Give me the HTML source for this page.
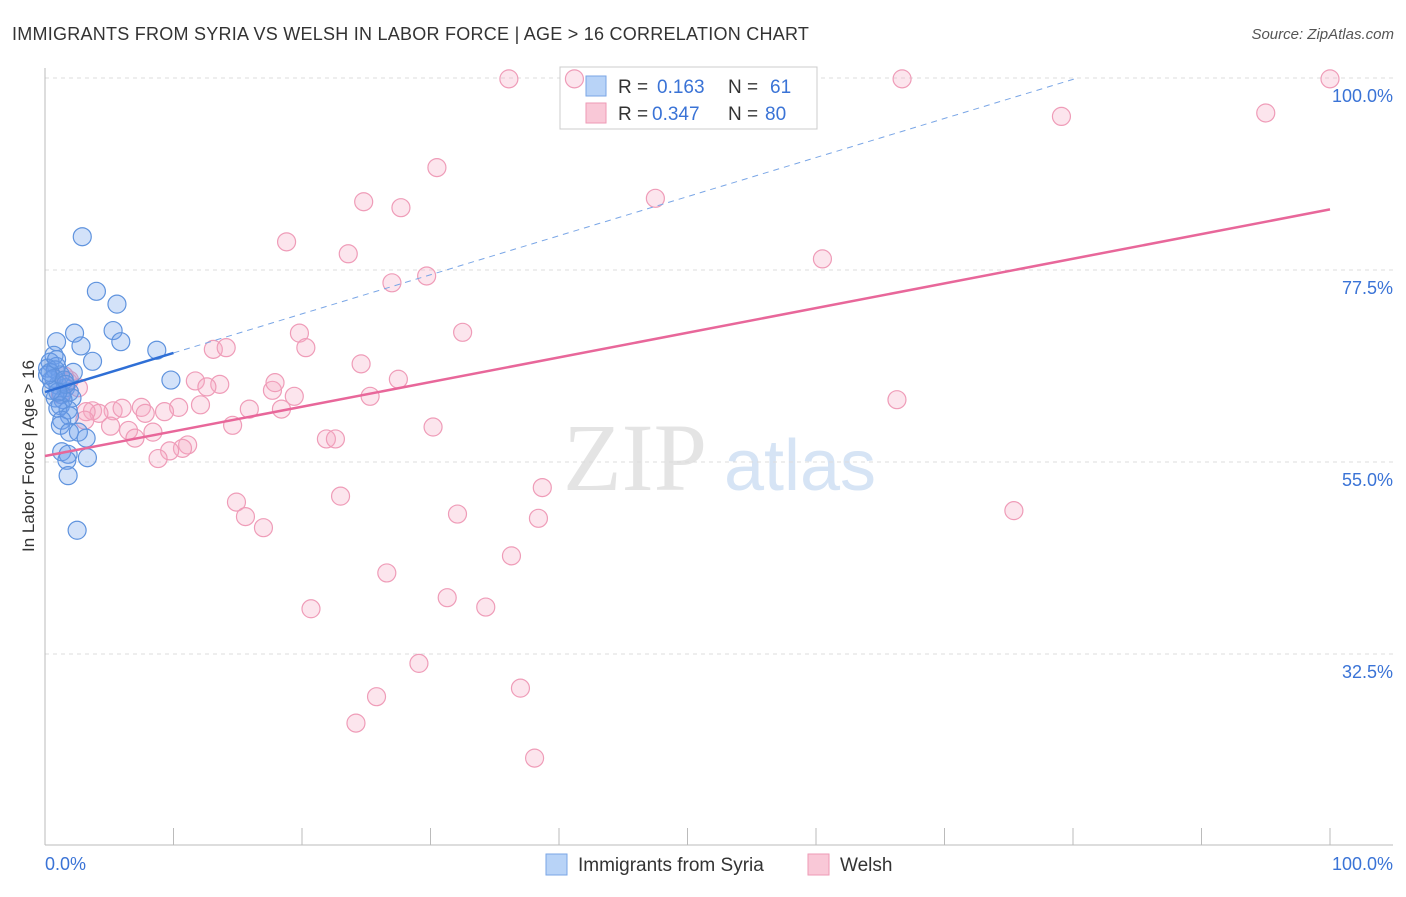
<!DOCTYPE html>
<html><head><meta charset="utf-8"><style>
body{margin:0;background:#fff;font-family:"Liberation Sans",sans-serif;}
</style></head><body>
<svg width="1406" height="892" xmlns="http://www.w3.org/2000/svg" id="svg" font-family="Liberation Sans, sans-serif">
<text x="12" y="40" font-size="18" fill="#333" letter-spacing="0.25">IMMIGRANTS FROM SYRIA VS WELSH IN LABOR FORCE | AGE &gt; 16 CORRELATION CHART</text>
<text x="1394" y="39" font-size="15" fill="#555" font-style="italic" text-anchor="end">Source: ZipAtlas.com</text>
<text x="0" y="0" transform="translate(34,456) rotate(-90)" font-size="17" fill="#333" text-anchor="middle">In Labor Force | Age &gt; 16</text>
<text x="635" y="490" font-size="96" fill="#e4e4e4" font-family="Liberation Serif, serif" text-anchor="middle">ZIP</text>
<text x="800" y="490" font-size="72" fill="#d6e4f5" text-anchor="middle">atlas</text>
<g id="grid"></g><g id="axes"></g>
<g>
<rect x="560" y="67" width="257" height="62" fill="#fff" stroke="#ccc"/>
<rect x="586" y="76" width="20" height="20" fill="#b8d3f7" stroke="#7aa6e6"/>
<rect x="586" y="103" width="20" height="20" fill="#f9c8d7" stroke="#ee9ab6"/>
<text y="93" font-size="19" fill="#333"><tspan x="618">R = </tspan><tspan x="657" fill="#3a73d6">0.163</tspan><tspan x="728">N = </tspan><tspan x="770" fill="#3a73d6">61</tspan></text>
<text y="120" font-size="19" fill="#333"><tspan x="618">R = </tspan><tspan x="652" fill="#3a73d6">0.347</tspan><tspan x="728">N = </tspan><tspan x="765" fill="#3a73d6">80</tspan></text>
</g>
<g id="pts"></g><g id="lines"></g>
<g>
<rect x="546" y="854" width="21" height="21" fill="#b8d3f7" stroke="#7aa6e6"/>
<text x="578" y="871" font-size="19" fill="#333">Immigrants from Syria</text>
<rect x="808" y="854" width="21" height="21" fill="#f9c8d7" stroke="#ee9ab6"/>
<text x="840" y="871" font-size="19" fill="#333">Welsh</text>
</g>
</svg>
<script>
const yTicks=[100,77.5,55,32.5];
const yTickLabels=["100.0%","77.5%","55.0%","32.5%"];
const xTicks=[0,10,20,30,40,50,60,70,80,90,100];
const syriaX=[2.9,4.0,5.6,2.3,5.3,0.9,5.9,2.8,8.7,0.7,3.7,0.4,0.9,0.2,2.2,0.8,1.2,9.8,0.5,1.0,1.6,1.9,1.3,0.8,2.1,1.4,1.2,1.8,1.0,1.9,1.3,1.2,1.9,2.6,3.2,1.3,1.8,3.3,1.7,1.8,2.5,0.4,0.7,1.5,1.6,1.0,0.5,0.2,0.9];
const syriaY=[81.4,75.0,73.5,70.1,70.4,69.1,69.1,68.6,68.1,67.5,66.8,66.7,66.2,66.0,65.5,65.8,65.2,64.6,64.6,64.0,63.7,63.2,62.9,62.5,62.5,62.3,61.6,61.1,61.3,60.4,59.9,59.3,58.5,58.5,57.8,56.2,55.9,55.5,55.2,53.4,47.0,65.5,64.8,64.6,64.1,63.2,63.4,65.2,67.0];
const welshX=[36.1,41.2,66.7,100,79.1,95.0,30.5,47.5,24.8,27.7,18.8,23.6,60.5,29.7,27.0,19.8,32.5,13.1,14.1,20.3,24.6,27.5,11.7,13.6,17.7,17.9,25.3,19.4,66.3,12.6,2.6,1.8,12.1,10.4,15.9,18.4,3.7,5.3,6.0,4.2,7.5,7.8,9.3,3.2,14.6,30.2,6.5,8.4,7.0,21.9,22.6,11.1,10.7,9.7,8.8,38.7,14.9,23.0,15.6,32.1,38.4,75.4,17.0,36.3,26.6,31.3,34.3,20.7,29.1,25.8,37.0,24.2,38.1,1.2,1.9,3.1,5.1,1.5];
const welshY=[99.9,99.9,99.9,99.9,95.5,95.9,89.5,85.9,85.5,84.8,80.8,79.4,78.8,76.8,76.0,70.1,70.2,68.2,68.4,68.4,66.5,64.7,64.5,64.1,63.4,64.3,62.7,62.7,62.3,63.8,63.7,64.4,61.7,61.4,61.2,61.2,61.0,61.0,61.3,60.7,61.4,60.7,60.9,60.9,59.3,59.1,58.7,58.5,57.8,57.7,57.7,57.0,56.6,56.3,55.4,52.0,50.3,51.0,48.6,48.9,48.4,49.3,47.3,44.0,42.0,39.1,38.0,37.8,31.4,27.5,28.5,24.4,20.3,62.9,64.6,59.9,59.2,65.1];
const syriaTrend=[63.2,0.458];
const welshTrend=[55.7,0.289];
const NS="http://www.w3.org/2000/svg";
const X=v=>45+v*12.85, Y=v=>78+(100-v)*192/22.5;
function mk(tag,attrs,parent){const e=document.createElementNS(NS,tag);for(const k in attrs)e.setAttribute(k,attrs[k]);document.getElementById(parent).appendChild(e);return e;}
yTicks.forEach((t,i)=>{
  const g=mk('line',{x1:45,x2:1393,y1:Y(t),y2:Y(t),stroke:'#ddd','stroke-dasharray':'4,4'},'grid');
  
  
  const l=mk('text',{x:1393,y:Y(t)+24,'font-size':18,fill:'#3a73d6','text-anchor':'end'},'grid');
  l.textContent=yTickLabels[i];
  
  
});
let a=mk('line',{x1:45,x2:45,y1:68,y2:845,stroke:'#bbb'},'axes');


a=mk('line',{x1:45,x2:1393,y1:845,y2:845,stroke:'#bbb'},'axes');


xTicks.forEach(t=>{const e=mk('line',{x1:X(t),x2:X(t),y1:828,y2:845,stroke:'#bbb'},'axes');
  
  });
let t=mk('text',{x:45,y:870,'font-size':18,fill:'#3a73d6'},'axes');t.textContent='0.0%';


t=mk('text',{x:1393,y:870,'font-size':18,fill:'#3a73d6','text-anchor':'end'},'axes');t.textContent='100.0%';


welshX.forEach((x,i)=>{const c=mk('circle',{cx:X(x),cy:Y(welshY[i]),r:9,fill:'rgba(246,168,195,0.3)',stroke:'#ef9cb8','stroke-width':1.2},'pts');
  
  });
syriaX.forEach((x,i)=>{const c=mk('circle',{cx:X(x),cy:Y(syriaY[i]),r:9,fill:'rgba(110,160,235,0.3)',stroke:'#5f93de','stroke-width':1.2},'pts');
  
  });
const sy=x=>syriaTrend[0]+syriaTrend[1]*x;
const xEnd=(100-syriaTrend[0])/syriaTrend[1];
let ln=mk('line',{x1:X(10),y1:Y(sy(10)),x2:X(xEnd),y2:Y(100),stroke:'#7aa6e6','stroke-width':1,'stroke-dasharray':'6,5'},'lines');


ln=mk('line',{x1:X(0),y1:Y(sy(0)),x2:X(10),y2:Y(sy(10)),stroke:'#2f6fd6','stroke-width':2.5},'lines');


const wy=x=>welshTrend[0]+welshTrend[1]*x;
ln=mk('line',{x1:X(0),y1:Y(wy(0)),x2:X(100),y2:Y(wy(100)),stroke:'#e8679a','stroke-width':2.5},'lines');


</script>
</body></html>
